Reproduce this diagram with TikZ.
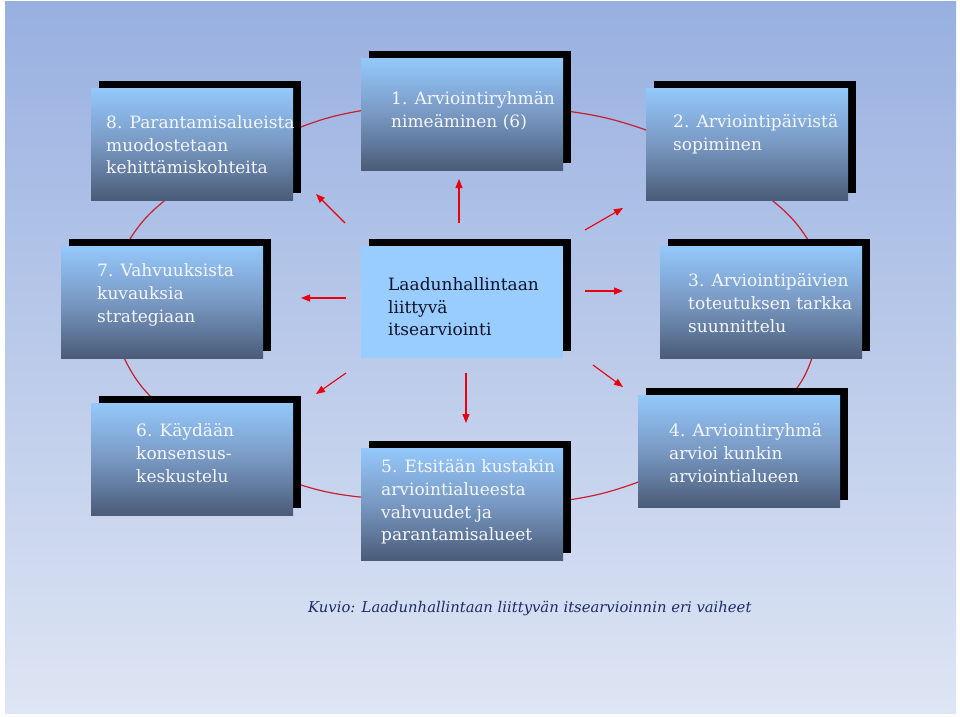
\documentclass[tikz,border=0pt]{standalone}
\usepackage{fontspec}
\setmainfont{DejaVu Serif}
\usetikzlibrary{arrows.meta,calc,shadows}
\definecolor{bgtop}{HTML}{98B0E0}
\definecolor{bgbot}{HTML}{DEE5F4}
\definecolor{btop}{HTML}{94C8FB}
\definecolor{bmid}{HTML}{7898C2}
\definecolor{bbot}{HTML}{4A5C78}
\definecolor{cbox}{HTML}{99CCFF}
\definecolor{conn}{HTML}{C8202C}
\definecolor{arrred}{HTML}{E8000F}
\definecolor{captc}{HTML}{1E2B66}
\definecolor{boxtxt}{HTML}{F4F6FB}
\definecolor{ctxt}{HTML}{121228}
\pgfdeclarelayer{bglayer}
\pgfdeclarelayer{connlayer}
\pgfsetlayers{bglayer,connlayer,main}
\tikzset{
  stepbox/.style={anchor=north west, minimum width=202pt, minimum height=112pt, inner sep=0pt,
    top color=btop, bottom color=bbot, middle color=bmid,
    general shadow={fill=black, shadow xshift=7.5pt, shadow yshift=7.5pt}},
  centerbox/.style={anchor=north west, minimum width=202pt, minimum height=112pt, inner sep=0pt,
    fill=cbox, general shadow={fill=black, shadow xshift=7.5pt, shadow yshift=7.5pt}},
  boxtext/.style={anchor=west, align=left, inner sep=0pt, text=boxtxt, font=\fontsize{17}{22.6}\selectfont},
  ctext/.style={anchor=west, align=left, inner sep=0pt, text=ctxt, font=\fontsize{17}{22.6}\selectfont},
  link/.style={draw=conn, line width=1.2pt},
  outarrow/.style={draw=arrred, line width=1.1pt, -{Triangle[length=9pt,width=7pt]}},
  caption/.style={anchor=west, inner sep=0pt, text=captc, font=\fontsize{14.8}{17}\selectfont\itshape}
}
\begin{document}
\begin{tikzpicture}[x=1pt,y=-1pt]
\useasboundingbox (0,0) rectangle (960,716);
\begin{pgfonlayer}{bglayer}
\fill[white] (0,0) rectangle (960,716);
\shade[top color=bgtop,bottom color=bgbot] (5,1) rectangle (956,713);
\end{pgfonlayer}

\node[stepbox] (b8) at (91,88) {};
\node[stepbox] (b1) at (361,58) {};
\node[stepbox] (b2) at (646,88) {};
\node[stepbox] (b7) at (61,246) {};
\node[centerbox] (bc) at (361,246) {};
\node[stepbox] (b3) at (660,246) {};
\node[stepbox] (b6) at (91,403) {};
\node[stepbox] (b5) at (361,448) {};
\node[stepbox] (b4) at (638,395) {};

\node[boxtext] (t8) at (106,145) {8. Parantamisalueista\\muodostetaan\\kehittämiskohteita};
\node[boxtext] (t1) at (391,111) {1. Arviointiryhmän\\nimeäminen (6)};
\node[boxtext] (t2) at (673,134.5) {2. Arviointipäivistä\\sopiminen};
\node[boxtext] (t7) at (97,295) {7. Vahvuuksista\\kuvauksia\\strategiaan};
\node[ctext] (tc) at (388,307) {Laadunhallintaan\\liittyvä\\itsearviointi};
\node[boxtext] (t3) at (688,303) {3. Arviointipäivien\\toteutuksen tarkka\\suunnittelu};
\node[boxtext] (t6) at (136,453) {6. Käydään\\konsensus-\\keskustelu};
\node[boxtext] (t5) at (381,502) {5. Etsitään kustakin\\arviointialueesta\\vahvuudet ja\\parantamisalueet};
\node[boxtext] (t4) at (669,453) {4. Arviointiryhmä\\arvioi kunkin\\arviointialueen};

\node[caption] (cap) at (308,608) {Kuvio: Laadunhallintaan liittyvän itsearvioinnin eri vaiheet};

\begin{pgfonlayer}{connlayer}
\draw[link] (b8.8.4) to[bend left=6] (b1.178.9);
\draw[link] (b1.2.7) to[bend left=6] (b2.172.1);
\draw[link] (b2.294.9) to[bend left=10] (b3.48.3);
\draw[link] (b3.312.9) to[bend left=10] (b4.47.8);
\draw[link] (b4.197.6) to[bend left=6] (b5.2.6);
\draw[link] (b5.176) to[bend left=6] (b6.347.7);
\draw[link] (b6.122.4) to[bend left=10] (b7.236.3);
\draw[link] (b7.123) to[bend left=10] (b8.244.3);
\end{pgfonlayer}

\coordinate (aus) at (459,223); \coordinate (aue) at (459,179);
\coordinate (auls) at (345,223); \coordinate (aule) at (316,194);
\coordinate (aurs) at (585,230); \coordinate (aure) at (623,208);
\coordinate (ars) at (585,291); \coordinate (are) at (623,291);
\coordinate (adrs) at (593,365); \coordinate (adre) at (623,387);
\coordinate (ads) at (466,373); \coordinate (ade) at (466,423);
\coordinate (adls) at (346,373); \coordinate (adle) at (316,394);
\coordinate (als) at (346,298); \coordinate (ale) at (301,298);
\draw[outarrow] (aus) -- (aue);
\draw[outarrow] (auls) -- (aule);
\draw[outarrow] (aurs) -- (aure);
\draw[outarrow] (ars) -- (are);
\draw[outarrow] (adrs) -- (adre);
\draw[outarrow] (ads) -- (ade);
\draw[outarrow] (adls) -- (adle);
\draw[outarrow] (als) -- (ale);
\end{tikzpicture}
\end{document}
